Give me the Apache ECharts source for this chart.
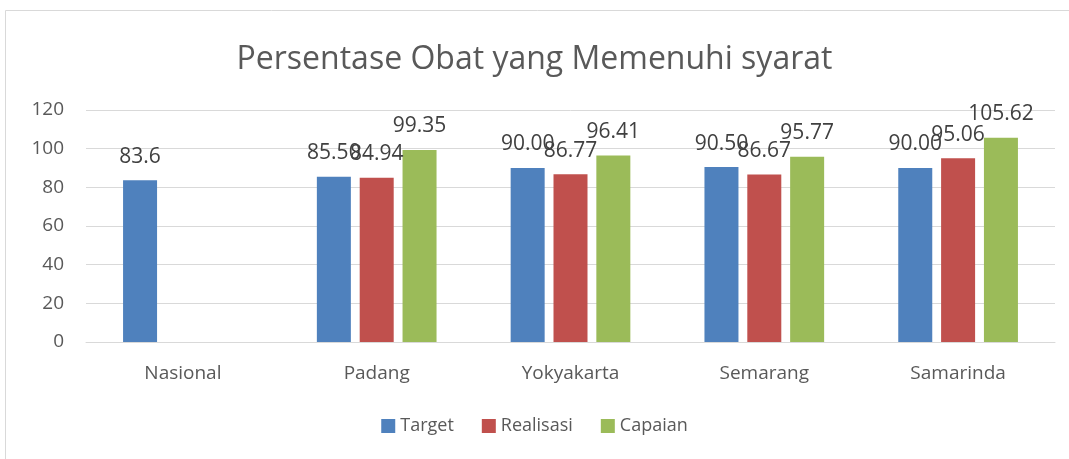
<!DOCTYPE html>
<html>
<head>
<meta charset="utf-8">
<script src="https://cdn.jsdelivr.net/npm/echarts@6/dist/echarts.min.js"></script>
<style>
  html, body { margin: 0; padding: 0; background: #fff; }
  #chart { width: 1069px; height: 459px; }
</style>
</head>
<body>
<div id="chart"></div>
<script>
const categories = ["Nasional", "Padang", "Yokyakarta", "Semarang", "Samarinda"];
const target = [83.6, 85.5, 90.0, 90.5, 90.0];
const realisasi = [null, 84.94, 86.77, 86.67, 95.06];
const capaian = [null, 99.35, 96.41, 95.77, 105.62];
const yTicks = { min: 0, max: 120, interval: 20 };

const font = "Open Sans";

const chart = echarts.init(document.getElementById("chart"));

// label formatter: first (national) value is shown as-is, rest with 2 decimals
function fmt(p) {
  if (p.value == null) return "";
  return p.dataIndex === 0 ? String(p.value) : p.value.toFixed(2);
}

const barLabel = {
  show: true,
  position: "top",
  distance: 13,
  color: "#404040",
  fontFamily: font,
  fontSize: 21,
  formatter: fmt
};

const option = {
  backgroundColor: "#fff",
  animation: false,
  graphic: [{
    type: "rect",
    shape: { x: 5.5, y: 10.5, width: 1080, height: 460 },
    style: { fill: "none", stroke: "#d9d9d9", lineWidth: 1 },
    silent: true
  }],
  title: {
    text: "Persentase Obat yang Memenuhi syarat",
    left: "center",
    top: 39,
    textStyle: { fontFamily: font, fontSize: 32, fontWeight: "normal", color: "#595959" }
  },
  legend: {
    bottom: 19,
    left: "center",
    itemWidth: 14,
    itemHeight: 14,
    itemGap: 28,
    icon: "rect",
    textStyle: { fontFamily: font, fontSize: 18, color: "#595959" },
    data: ["Target", "Realisasi", "Capaian"]
  },
  grid: { left: 86, right: 14, top: 110, bottom: 117 },
  xAxis: {
    type: "category",
    data: categories,
    axisLine: { lineStyle: { color: "#d9d9d9" } },
    axisTick: { show: false },
    axisLabel: { fontFamily: font, fontSize: 19, color: "#595959", margin: 22 }
  },
  yAxis: {
    type: "value",
    min: yTicks.min,
    max: yTicks.max,
    interval: yTicks.interval,
    axisLine: { show: false },
    axisTick: { show: false },
    axisLabel: { fontFamily: font, fontSize: 19, color: "#595959", margin: 22 },
    splitLine: { lineStyle: { color: "#d9d9d9", width: 1 } }
  },
  series: [
    { name: "Target", type: "bar", data: target, barWidth: 34, barGap: "26%", barCategoryGap: "38%",
      itemStyle: { color: "#4f81bd" }, label: barLabel },
    { name: "Realisasi", type: "bar", data: realisasi, barWidth: 34,
      itemStyle: { color: "#c0504d" }, label: barLabel },
    { name: "Capaian", type: "bar", data: capaian, barWidth: 34,
      itemStyle: { color: "#9bbb59" }, label: barLabel }
  ]
};

chart.setOption(option);
</script>
</body>
</html>
